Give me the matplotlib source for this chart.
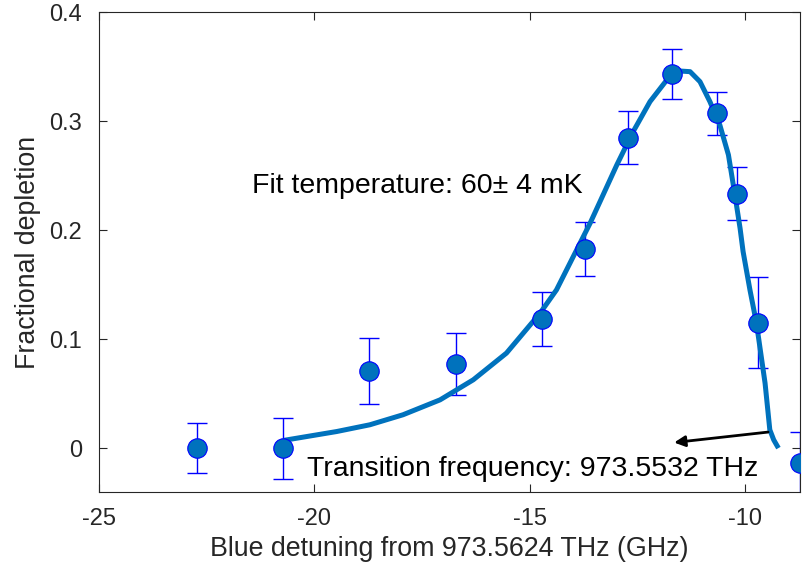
import matplotlib
matplotlib.use("Agg")
import matplotlib.pyplot as plt

plt.rcParams['font.family'] = ['Liberation Sans', 'DejaVu Sans']

# measured points
det = [-22.73, -20.72, -18.72, -16.71, -14.71, -13.72, -12.71, -11.71, -10.66, -10.20, -9.70, -8.74]
depl = [0.000, 0.000, 0.0709, 0.0773, 0.1186, 0.1829, 0.285, 0.3434, 0.3073, 0.2333, 0.1152, -0.0134]
err = [0.023, 0.028, 0.030, 0.0285, 0.0246, 0.0245, 0.024, 0.0231, 0.0197, 0.0243, 0.0418, 0.028]

# fit curve
fit_x = [-20.72, -19.48, -18.71, -17.94, -17.08, -16.31, -15.54, -14.76, -14.38, -13.99,
         -13.60, -13.37, -12.98, -12.60, -12.21, -11.82, -11.52, -11.28, -11.05, -10.82,
         -10.59, -10.39, -10.24, -10.12, -10.05, -9.89, -9.74, -9.54, -9.43, -9.34, -9.23]
fit_y = [0.0070, 0.0152, 0.0214, 0.0306, 0.0443, 0.0627, 0.0872, 0.1239, 0.1452, 0.1758,
         0.2064, 0.2262, 0.2599, 0.2905, 0.3180, 0.3379, 0.3461, 0.3455, 0.3363, 0.3180,
         0.2966, 0.2691, 0.2324, 0.2018, 0.1804, 0.1450, 0.1147, 0.0596, 0.0168, 0.0076, 0.0]

fit_label = "Fit temperature: 60\u00b1 4 mK"
line_label = "Transition frequency: 973.5532 THz"
arrow_tail = (-9.47, 0.0147)
arrow_head = (-11.65, 0.0051)

grey = "#262626"
blue = "#0072BD"

fig = plt.figure(figsize=(8.07, 5.82), dpi=100)
ax = fig.add_axes([0.1224, 0.1552, 0.8689, 0.8237])

ax.errorbar(det, depl, yerr=err, fmt="none", ecolor="#0000FF", elinewidth=1.0,
            capsize=7, capthick=1.0, zorder=2)
ax.plot(fit_x, fit_y, color=blue, lw=3.6, solid_capstyle="butt",
        solid_joinstyle="round", zorder=3)
ax.plot(det, depl, "o", ms=14, mfc=blue, mec="#0000FF", mew=0.8, zorder=4)

ax.annotate("", xy=arrow_head, xytext=arrow_tail,
            arrowprops=dict(arrowstyle="-|>", color="black", lw=2,
                            mutation_scale=16, shrinkA=0, shrinkB=0))

ax.text(-21.45, 0.234, fit_label, fontsize=20.5, color="black", va="baseline")
ax.text(-20.18, -0.0254, line_label, fontsize=20.5, color="black", va="baseline")

ax.set_xlim(-25, -8.73)
ax.set_ylim(-0.04, 0.4)
ax.set_xticks([-25, -20, -15, -10])
ax.set_xticklabels(["-25", "-20", "-15", "-10"])
ax.set_yticks([0, 0.1, 0.2, 0.3, 0.4])
ax.set_yticklabels(["0", "0.1", "0.2", "0.3", "0.4"])

ax.tick_params(direction="in", top=True, right=True, length=6, width=0.8,
               colors=grey, labelsize=17, pad=12)
for s in ax.spines.values():
    s.set_color(grey)
    s.set_linewidth(0.8)

ax.set_xlabel("Blue detuning from 973.5624 THz (GHz)", fontsize=19.3, color=grey, labelpad=4)
ax.set_ylabel("Fractional depletion", fontsize=19.3, color=grey, labelpad=6)

fig.savefig("out.png", dpi=100)
